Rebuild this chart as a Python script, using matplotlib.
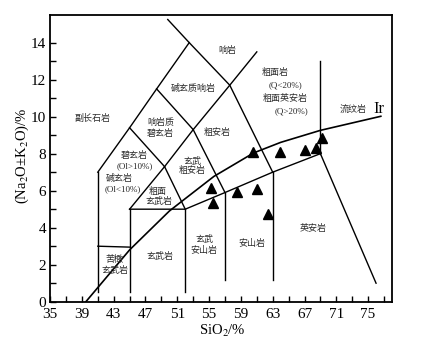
import numpy as np
import matplotlib
matplotlib.use("Agg")
import matplotlib.pyplot as plt

plt.rcParams['font.family'] = ['Liberation Serif', 'Noto Sans CJK SC']
plt.rcParams['mathtext.fontset'] = 'stix'

# sample points (SiO2, Na2O+K2O)
sio2 = [55.2, 55.5, 58.5, 61.0, 62.4, 60.5, 63.9, 67.1, 68.5, 69.2]
alk = [6.12, 5.36, 5.94, 6.09, 4.73, 8.09, 8.10, 8.18, 8.31, 8.85]

# field boundaries of the TAS diagram
boundaries = [
    [(41, 0.5), (41, 7)],
    [(41, 3), (45, 2.95)],
    [(45, 0.5), (45, 5)],
    [(52, 0.5), (52, 5)],
    [(57, 1.2), (57, 5.9)],
    [(63, 1.2), (63, 7)],
    [(45, 5), (52, 5), (57, 5.9), (63, 7), (69, 8)],
    [(69, 8), (69, 13)],
    [(69, 8), (76.0, 1.0)],
    [(45, 5), (49.4, 7.3), (52, 5)],
    [(57, 5.9), (53, 9.3)],
    [(63, 7), (57.6, 11.7), (52.5, 14), (49.8, 15.25)],
    [(41, 7), (45, 9.4), (48.4, 11.5), (52.5, 14)],
    [(45, 9.4), (49.4, 7.3)],
    [(48.4, 11.5), (53, 9.3)],
    [(49.4, 7.3), (53, 9.3), (57.6, 11.7), (61, 13.5)],
]

# Irvine alkaline / subalkaline divide
ir_x = [39.5, 45, 50, 52, 55.6, 60.6, 64, 69, 76.6]
ir_y = [0, 2.8, 4.9, 5.57, 6.77, 8.04, 8.61, 9.26, 10.02]

# rock names and where they sit
names = ['副长石岩', '碱玄质响岩', '响岩', '响岩质', '碧玄岩', '粗安岩',
         '粗面岩', '(Q<20%)', '粗面英安岩', '(Q>20%)', '流纹岩',
         '碧玄岩', '(Ol>10%)', '碱玄岩', '(Ol<10%)', '玄武', '粗安岩',
         '粗面', '玄武岩', '苦橄', '玄武岩', '玄武岩', '玄武', '安山岩',
         '安山岩', '英安岩']
name_x = [40.3, 53.0, 57.3, 48.9, 48.9, 56.0,
          63.3, 64.6, 64.6, 65.4, 73.1,
          45.6, 45.6, 43.7, 44.1, 52.9, 52.9,
          48.5, 48.7, 43.1, 43.1, 48.8, 54.4, 54.3,
          60.4, 68.1]
name_y = [9.88, 11.5, 13.6, 9.7, 9.1, 9.17,
          12.37, 11.7, 10.96, 10.3, 10.4,
          7.9, 7.3, 6.65, 6.09, 7.58, 7.08,
          5.96, 5.42, 2.26, 1.66, 2.44, 3.34, 2.76,
          3.16, 3.97]

fig = plt.figure(figsize=(4.21, 3.46), dpi=100)
ax = fig.add_axes([0.119, 0.128, 0.812, 0.829])

for seg in boundaries:
    xs, ys = zip(*seg)
    ax.plot(xs, ys, color='black', lw=1.0)
ax.plot(ir_x, ir_y, color='black', lw=1.2)

ax.plot(sio2, alk, '^', color='black', ms=6.5, ls='none')

for t, x, y in zip(names, name_x, name_y):
    ax.text(x, y, t, fontsize=6.5, ha='center', va='center',
            color='#2a2a2a', fontweight='light')
ax.text(76.4, 10.4, 'Ir', fontsize=12, ha='center', va='center')

ax.set_xlim(35, 78)
ax.set_ylim(0, 15.5)
ax.set_xticks(np.arange(35, 78, 2))
ax.set_xticklabels([str(v) if (v - 35) % 4 == 0 else '' for v in range(35, 78, 2)])
ax.set_yticks(np.arange(0, 15, 2))
ax.set_yticks(np.arange(1, 15, 2), minor=True)
ax.tick_params(direction='in', length=4, width=1, labelsize=11, pad=3)
ax.tick_params(axis='x', pad=4.5)
ax.tick_params(which='minor', direction='in', length=4, width=1)
for s in ax.spines.values():
    s.set_linewidth(1.3)

ax.text(-0.082, 0.508, '(Na$_2$O±K$_2$O)/%', transform=ax.transAxes,
        rotation=90, ha='center', va='center', fontsize=10.5)
ax.text(0.503, -0.103, 'SiO$_2$/%', transform=ax.transAxes,
        ha='center', va='center', fontsize=10.5)

fig.savefig('out.png', dpi=100)
